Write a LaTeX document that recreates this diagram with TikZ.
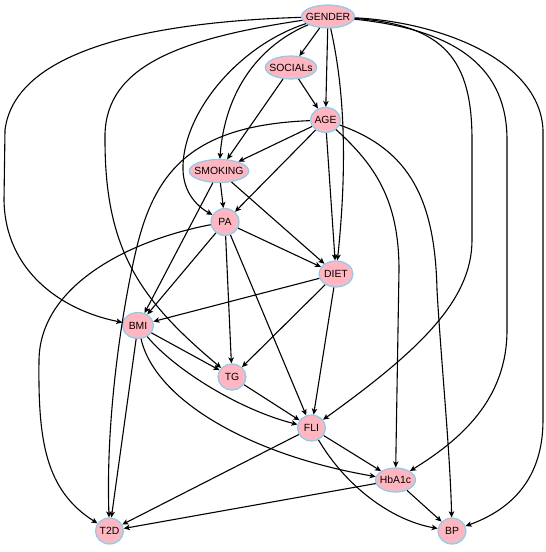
\documentclass[tikz,border=0pt]{standalone}
\usepackage{fontspec}
\setmainfont{Liberation Sans}
\usetikzlibrary{shapes.geometric,arrows.meta}
\definecolor{nodepink}{RGB}{255,182,193}
\definecolor{nodeblue}{RGB}{135,206,235}
\begin{document}
\begin{tikzpicture}[x=1pt,y=-1pt,
  vnode/.style={ellipse, draw=nodeblue, fill=nodepink, line width=1.2pt,
    inner xsep=-3.5pt, inner ysep=0pt, minimum width=28pt, minimum height=26pt,
    font=\fontsize{10.4}{12}\selectfont},
  link/.style={line width=1.1pt, -{Stealth[length=6pt,width=5.5pt,inset=1.5pt]}}]
\useasboundingbox (0,0) rectangle (546,552);
% nodes
\node[vnode, minimum width=51pt, minimum height=23pt] (GENDER) at (328,16.5) {GENDER};
\node[vnode, minimum width=51pt, minimum height=23pt] (SOCIALs) at (291,67.5) {SOCIALs};
\node[vnode, minimum width=30pt, minimum height=25pt] (AGE) at (325.5,120) {AGE};
\node[vnode, minimum width=58pt, minimum height=23pt] (SMOKING) at (219,171) {SMOKING};
\node[vnode, minimum width=28pt, minimum height=27pt] (PA) at (225,222) {PA};
\node[vnode, minimum width=34pt, minimum height=26pt] (DIET) at (336,274) {DIET};
\node[vnode, minimum width=31pt, minimum height=26pt] (BMI) at (138,325.5) {BMI};
\node[vnode] (TG) at (232,377) {TG};
\node[vnode] (FLI) at (311.5,428) {FLI};
\node[vnode, minimum width=40pt, minimum height=24pt] (HbA1c) at (395.5,480) {HbA1c};
\node[vnode] (T2D) at (109.5,531) {T2D};
\node[vnode] (BP) at (452,531) {BP};
% edges from GENDER
\draw[link] (GENDER) -- (SOCIALs);
\draw[link] (GENDER) -- (AGE);
\draw[link] (GENDER) .. controls (340,70) and (350,140) .. (DIET);
\draw[link] (GENDER) .. controls (260,45) and (225,90) .. (SMOKING);
\draw[link] (GENDER) .. controls (240,45) and (185,110) .. (183,165) .. controls (182,190) and (195,205) .. (PA);
\draw[link] (GENDER) .. controls (170,40) and (103,70) .. (105,140) .. controls (105,250) and (140,300) .. (TG);
\draw[link] (GENDER) .. controls (150,22) and (15,50) .. (5,130) -- (4,200) .. controls (5,270) and (60,310) .. (BMI);
\draw[link] (GENDER) .. controls (445,25) and (472,60) .. (472,140) -- (472,240) .. controls (472,300) and (420,350) .. (FLI);
\draw[link] (GENDER) .. controls (460,30) and (507,70) .. (507,140) -- (507,330) .. controls (507,400) and (460,440) .. (HbA1c);
\draw[link] (GENDER) .. controls (440,22) and (540,60) .. (543,130) -- (543,420) .. controls (543,480) and (510,510) .. (BP);
% SOCIALs
\draw[link] (SOCIALs) -- (AGE);
\draw[link] (SOCIALs) -- (SMOKING);
% AGE
\draw[link] (AGE) -- (SMOKING);
\draw[link] (AGE) -- (PA);
\draw[link] (AGE) -- (DIET);
\draw[link] (AGE) .. controls (200,125) and (160,165) .. (140,235) .. controls (128.6,275) and (105,400) .. (T2D);
\draw[link] (AGE) .. controls (375,165) and (399,200) .. (399,270) -- (HbA1c);
\draw[link] (AGE) .. controls (410,150) and (435,200) .. (437,290) .. controls (441,360) and (450,450) .. (BP);
% SMOKING
\draw[link] (SMOKING) -- (PA);
\draw[link] (SMOKING) -- (DIET);
\draw[link] (SMOKING) -- (BMI);
% PA
\draw[link] (PA) -- (DIET);
\draw[link] (PA) -- (BMI);
\draw[link] (PA) -- (TG);
\draw[link] (PA) -- (FLI);
\draw[link] (PA) .. controls (130,240) and (40,285) .. (39,360) .. controls (38,440) and (45,490) .. (T2D);
% DIET
\draw[link] (DIET) -- (BMI);
\draw[link] (DIET) -- (TG);
\draw[link] (DIET) -- (FLI);
% BMI
\draw[link] (BMI) -- (TG);
\draw[link] (BMI) .. controls (175,370) and (240,410) .. (FLI);
\draw[link] (BMI) .. controls (155,400) and (250,455) .. (HbA1c);
\draw[link] (BMI) -- (T2D);
% TG, FLI, HbA1c
\draw[link] (TG) -- (FLI);
\draw[link] (FLI) -- (HbA1c);
\draw[link] (FLI) -- (T2D);
\draw[link] (FLI) .. controls (345,485) and (390,520) .. (BP);
\draw[link] (HbA1c) -- (T2D);
\draw[link] (HbA1c) -- (BP);
\end{tikzpicture}
\end{document}
